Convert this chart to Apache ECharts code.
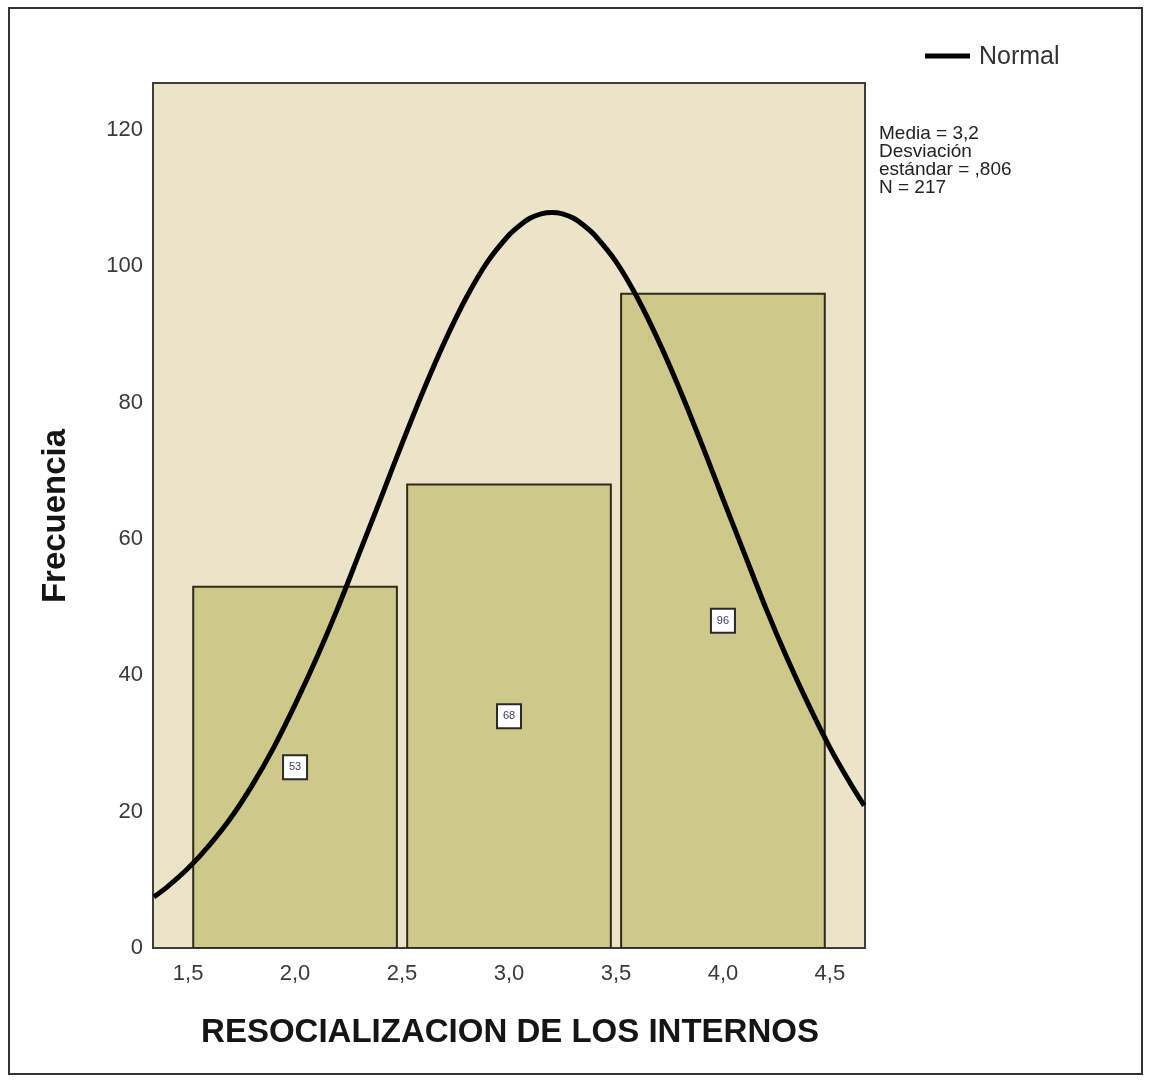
<!DOCTYPE html>
<html>
<head>
<meta charset="utf-8">
<script src="https://cdn.jsdelivr.net/npm/echarts@6/dist/echarts.min.js"></script>
<style>
html,body{margin:0;padding:0;background:#fff;}
#main{width:1151px;height:1080px;}
</style>
</head>
<body>
<div id="main"></div>
<script>
// ---- data ----
var binCenters = [2.0, 3.0, 4.0];
var binCounts = [53, 68, 96];
var curveX = [1.34, 1.4, 1.5, 1.6, 1.7, 1.8, 1.9, 2.0, 2.1, 2.2, 2.3, 2.4, 2.5, 2.6, 2.7, 2.8, 2.9, 3.0, 3.05, 3.1, 3.15, 3.2, 3.25, 3.3, 3.35, 3.4, 3.5, 3.6, 3.7, 3.8, 3.9, 4.0, 4.1, 4.2, 4.3, 4.4, 4.5, 4.6, 4.66];
var curveY = [7.5, 8.9, 11.7, 15.1, 19.1, 23.9, 29.4, 35.7, 42.5, 49.9, 57.9, 65.9, 74.0, 81.8, 89.0, 95.4, 100.7, 104.6, 106.0, 107.1, 107.7, 107.9, 107.7, 107.1, 106.0, 104.6, 100.7, 95.4, 89.0, 81.8, 74.0, 65.9, 57.9, 49.9, 42.5, 35.7, 29.4, 23.9, 20.9];
var xTicks = [1.5, 2.0, 2.5, 3.0, 3.5, 4.0, 4.5];
var yTicks = [0, 20, 40, 60, 80, 100, 120];
var statsLines = ['Media = 3,2', 'Desviación', 'estándar = ,806', 'N = 217'];
var legendName = 'Normal';
var xTitle = 'RESOCIALIZACION DE LOS INTERNOS';
var yTitle = 'Frecuencia';

var FONT = '"Liberation Sans", Arial, sans-serif';
var HALF = 0.476;

var barData = binCenters.map(function (c, i) { return [c, binCounts[i]]; });
var lineData = curveX.map(function (x, i) { return [x, curveY[i]]; });

function renderBar(params, api) {
  var c = api.value(0), v = api.value(1);
  var p0 = api.coord([c - HALF, v]);
  var p1 = api.coord([c + HALF, 0]);
  var mid = api.coord([c, v / 2]);
  return {
    type: 'group',
    children: [
      { type: 'rect', shape: { x: p0[0], y: p0[1], width: p1[0] - p0[0], height: p1[1] - p0[1] },
        style: { fill: '#cec88b', stroke: '#2f2b1c', lineWidth: 2 } },
      { type: 'rect', shape: { x: mid[0] - 12, y: mid[1] - 12, width: 24, height: 24 },
        style: { fill: '#ffffff', stroke: '#2a2a2a', lineWidth: 2 } },
      { type: 'text', x: mid[0], y: mid[1],
        style: { text: String(v), align: 'center', verticalAlign: 'middle', fill: '#3a3a66',
                 font: '11px ' + FONT } }
    ]
  };
}

var chart = echarts.init(document.getElementById('main'));
chart.setOption({
  backgroundColor: '#ffffff',
  animation: false,
  grid: {
    left: 153, top: 83, right: 286, bottom: 132,
    show: true, backgroundColor: '#ebe4c9', borderColor: '#3e3e3e', borderWidth: 2
  },
  xAxis: {
    type: 'value', min: 1.336, max: 4.664,
    axisLine: { show: false }, axisTick: { show: false }, splitLine: { show: false },
    axisLabel: {
      customValues: xTicks, margin: 15, color: '#3a3a3a', fontSize: 22, fontFamily: FONT,
      formatter: function (v) { return v.toFixed(1).replace('.', ','); }
    }
  },
  yAxis: {
    type: 'value', min: 0, max: 126.9,
    axisLine: { show: false }, axisTick: { show: false }, splitLine: { show: false },
    axisLabel: { customValues: yTicks, margin: 10, color: '#3a3a3a', fontSize: 22, fontFamily: FONT }
  },
  series: [
    { type: 'custom', renderItem: renderBar, data: barData, z: 2, clip: true },
    { type: 'line', data: lineData, smooth: 0.3, showSymbol: false, symbol: 'none', clip: true,
      lineStyle: { color: '#000', width: 5 }, z: 5 }
  ],
  graphic: [
    { type: 'rect', shape: { x: 9, y: 8, width: 1133, height: 1066 },
      style: { fill: 'none', stroke: '#333', lineWidth: 2 }, z: 0 },
    { type: 'line', shape: { x1: 925, y1: 56, x2: 970, y2: 56 },
      style: { stroke: '#000', lineWidth: 5 } },
    { type: 'text', x: 979, y: 57,
      style: { text: legendName, font: '25px ' + FONT, fill: '#333', verticalAlign: 'middle' } },
    { type: 'text', x: 879, y: 125,
      style: { text: statsLines.join('\n'), font: '19px ' + FONT, lineHeight: 18, fill: '#222' } },
    { type: 'text', x: 510, y: 1033,
      style: { text: xTitle, font: 'bold 33px ' + FONT, fill: '#151515', align: 'center', verticalAlign: 'middle' } },
    { type: 'text', x: 56, y: 516, rotation: Math.PI / 2,
      style: { text: yTitle, font: 'bold 33px ' + FONT, fill: '#151515', align: 'center', verticalAlign: 'middle' } }
  ]
});
</script>
</body>
</html>
